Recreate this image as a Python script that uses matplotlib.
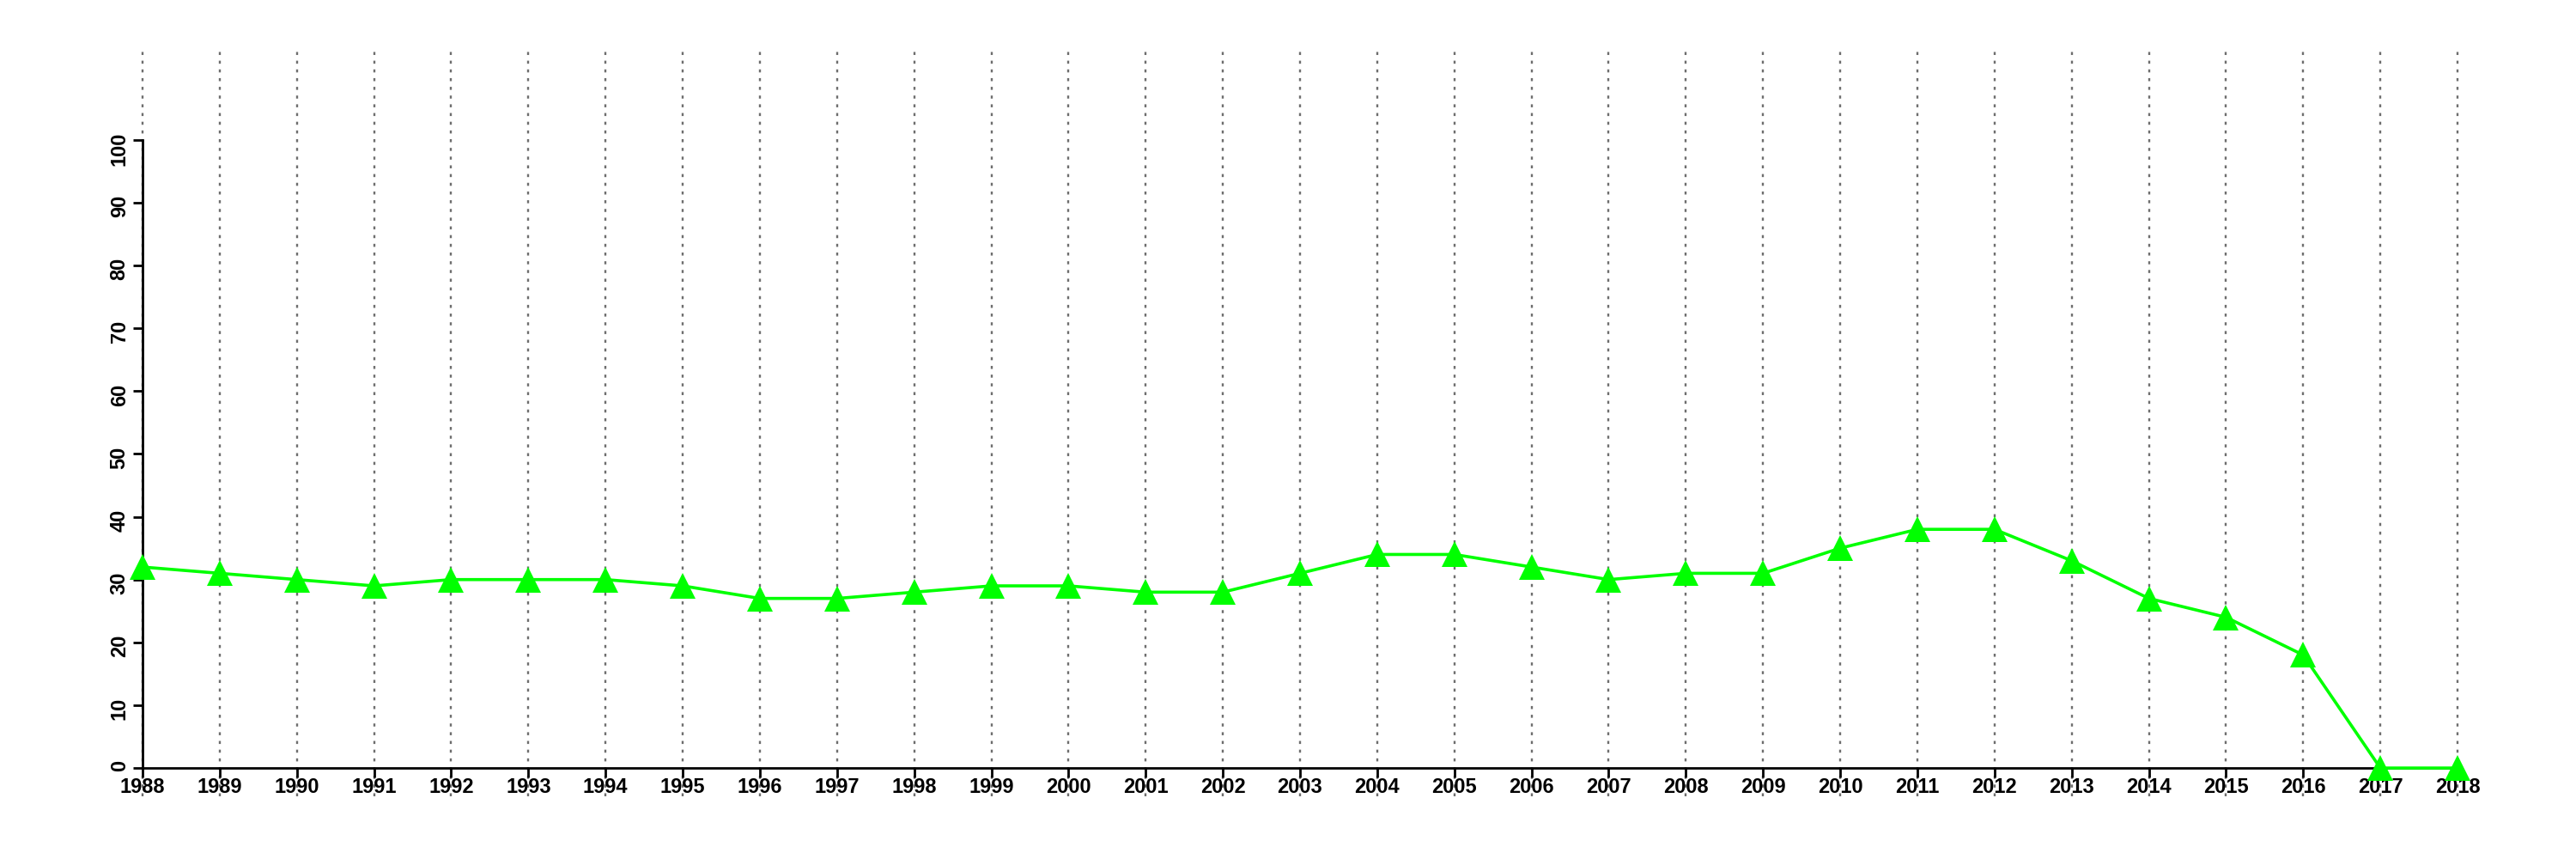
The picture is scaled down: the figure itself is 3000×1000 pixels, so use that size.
import matplotlib
matplotlib.use("Agg")
import matplotlib.pyplot as plt

# data
years = list(range(1988, 2019))
values = [32, 31, 30, 29, 30, 30, 30, 29, 27, 27, 28, 29, 29, 28, 28, 31,
          34, 34, 32, 30, 31, 31, 35, 38, 38, 33, 27, 24, 18, 0, 0]
y_ticks = list(range(0, 101, 10))

plt.rcParams['font.family'] = ['Liberation Sans', 'DejaVu Sans']
plt.rcParams['font.weight'] = 'bold'

fig = plt.figure(figsize=(30, 10), dpi=100)
# a little slack on x so the end gridlines are not clipped
ax = fig.add_axes([161.5 / 3000, 0.073, 2705 / 3000, 0.868])

ax.plot(years, values, color='#00ff00', lw=2.6, marker='^', ms=21,
        markeredgewidth=0, clip_on=False, zorder=3)

ax.set_xlim(1987.95, 2018.05)
ax.set_ylim(-4.5, 114.2)
ax.set_xticks(years)
ax.set_xticklabels([str(y) for y in years])
ax.set_yticks(y_ticks)
ax.set_yticklabels([str(t) for t in y_ticks], va='center')
ax.tick_params(axis='both', length=8, width=2, labelsize=17)
ax.tick_params(axis='x', pad=0)
ax.tick_params(axis='y', pad=3, labelrotation=90)

# vertical dotted grid, spans the whole plotting region
ax.grid(axis='x', color='#6e6e6e', linestyle=(0, (1.5, 2.8)), lw=1.7)
ax.set_axisbelow(True)

for side in ['top', 'right']:
    ax.spines[side].set_visible(False)
ax.spines['left'].set_bounds(0, 100)
ax.spines['left'].set_position(('data', 1988))
ax.spines['bottom'].set_position(('data', 0))
ax.spines['bottom'].set_bounds(1988, 2018)
for side in ['left', 'bottom']:
    ax.spines[side].set_linewidth(2)

fig.savefig('out.png', dpi=100)
